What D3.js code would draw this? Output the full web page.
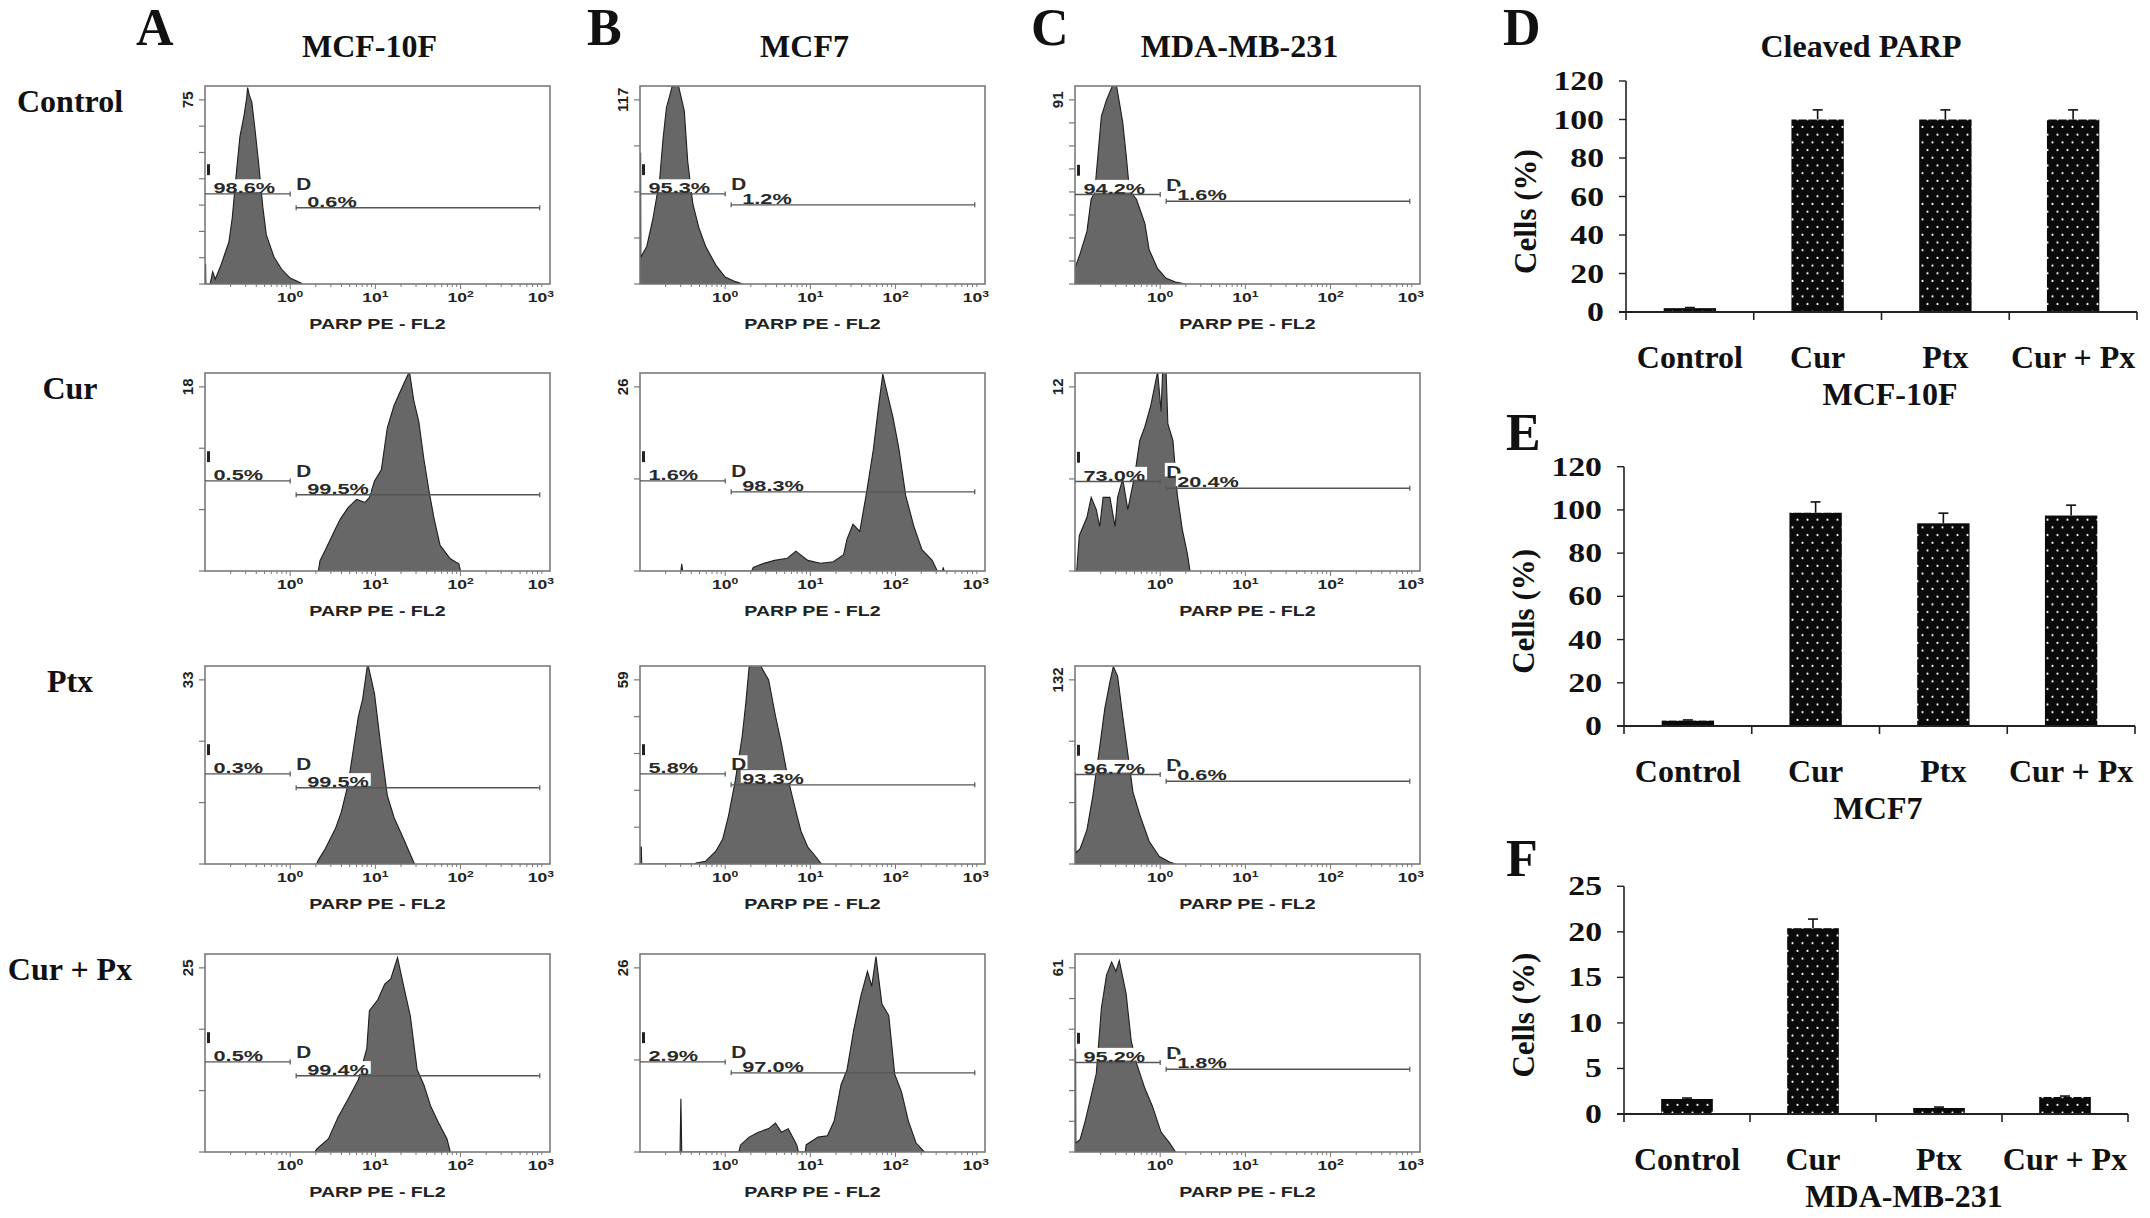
<!DOCTYPE html>
<html>
<head>
<meta charset="utf-8">
<script src="https://cdn.jsdelivr.net/npm/d3@7"></script>
<style>
  body { margin: 0; background: #fff; }
  svg { display: block; }
</style>
</head>
<body>
<div id="plot"></div>
<script>
// Panel labels and titles
const panelLetters = ["A", "B", "C", "D", "E", "F"];
const cellLines = ["MCF-10F", "MCF7", "MDA-MB-231"];
const treatments = ["Control", "Cur", "Ptx", "Cur + Px"];

// Flow histograms: y-axis max label and tick intervals, [row][column]
const histYMax = [[75, 117, 91], [18, 26, 12], [33, 59, 132], [25, 26, 61]];
const histYTicks = [[7, 4, 8], [3, 2, 2], [3, 5, 3], [3, 2, 6]];
// Gate percentages (left gate I, right gate D)
const gateLeft = [["98.6%", "95.3%", "94.2%"], ["0.5%", "1.6%", "73.0%"], ["0.3%", "5.8%", "96.7%"], ["0.5%", "2.9%", "95.2%"]];
const gateRight = [["0.6%", "1.2%", "1.6%"], ["99.5%", "98.3%", "20.4%"], ["99.5%", "93.3%", "0.6%"], ["99.4%", "97.0%", "1.8%"]];
const xTickPowers = [0, 1, 2, 3];

// Histogram outlines: [log10 PARP PE, count]
const histA1 = [[-1,8],[-0.993,8],[-0.99,0],[-0.94,0],[-0.91,5],[-0.88,2],[-0.82,7],[-0.77,12],[-0.72,17],[-0.68,27],[-0.63,46],[-0.59,60],[-0.54,69],[-0.51,76],[-0.50,80],[-0.48,77],[-0.45,74],[-0.41,62],[-0.37,49],[-0.32,31],[-0.28,20],[-0.19,11],[-0.10,6],[0.0,2.4],[0.12,0.5],[0.15,0]];
const histB1 = [[-1,83],[-0.993,83],[-0.99,17],[-0.92,24],[-0.85,41],[-0.77,66],[-0.73,92],[-0.69,112],[-0.63,124],[-0.58,135],[-0.54,124],[-0.48,110],[-0.44,78],[-0.38,51],[-0.31,36],[-0.23,24],[-0.11,12],[0,4.4],[0.12,1.5],[0.21,0]];
const histC1 = [[-1,8],[-0.94,15],[-0.86,26],[-0.81,42],[-0.77,45],[-0.73,64],[-0.69,83],[-0.63,91],[-0.57,97],[-0.53,102],[-0.50,95],[-0.44,80],[-0.40,64],[-0.36,46],[-0.28,42],[-0.18,30],[-0.13,17],[-0.03,7.6],[0.07,2.8],[0.18,1],[0.30,0]];
const histA2 = [[0.33,0],[0.35,1],[0.41,2],[0.53,4.1],[0.59,5.1],[0.68,6.2],[0.78,7],[0.88,6.7],[0.93,7.2],[0.99,8.8],[1.07,9.9],[1.14,14],[1.22,16.2],[1.30,17.7],[1.36,18.8],[1.40,19.5],[1.45,16.7],[1.51,14.6],[1.57,10.9],[1.63,7.8],[1.69,5.1],[1.76,2.5],[1.88,1.2],[1.98,0.7],[2.0,0]];
const histB2 = [[-0.52,0],[-0.51,1],[-0.50,0],[0.31,0],[0.33,0.5],[0.43,1],[0.58,1.5],[0.73,1.8],[0.83,2.8],[0.97,1.5],[1.12,1.1],[1.27,1.3],[1.39,2.3],[1.43,4.5],[1.50,6.6],[1.58,5.6],[1.66,11.1],[1.74,17.2],[1.80,23.2],[1.85,27.8],[1.91,24.7],[1.97,21.7],[2.04,17.2],[2.12,10.6],[2.22,6.1],[2.31,3],[2.43,1.5],[2.49,0],[2.55,0],[2.56,0.5],[2.57,0]];
const histC2 = [[-0.98,0],[-0.95,2.3],[-0.86,3.5],[-0.81,4.8],[-0.75,4],[-0.71,2.9],[-0.67,4.8],[-0.59,4.8],[-0.53,2.9],[-0.50,4.8],[-0.44,6],[-0.38,4],[-0.30,6.2],[-0.24,8.5],[-0.18,9.4],[-0.11,10.8],[-0.03,13],[0.01,10.4],[0.04,14.5],[0.06,14.5],[0.09,9.6],[0.15,8.5],[0.20,5],[0.26,2.7],[0.32,1.1],[0.35,0]];
const histA3 = [[0.31,0],[0.33,0.7],[0.41,2.7],[0.53,6.3],[0.60,9.3],[0.68,14.3],[0.76,22.4],[0.80,26.4],[0.85,29.5],[0.91,36],[0.99,30.5],[1.07,20.4],[1.14,12.3],[1.22,8.3],[1.34,4.2],[1.41,1.7],[1.46,0]];
const histB3 = [[-1,5.4],[-0.985,5.4],[-0.98,0],[-0.36,0],[-0.34,0.3],[-0.23,0.9],[-0.11,4.1],[-0.03,7.9],[0.04,15.6],[0.12,27],[0.20,41],[0.24,51],[0.28,62.8],[0.33,65.4],[0.37,68.6],[0.43,62.8],[0.51,59],[0.59,47.5],[0.66,38.6],[0.74,27],[0.82,18],[0.89,10.5],[0.97,5.4],[1.05,2.8],[1.13,0]];
const histC3 = [[-1,65],[-0.993,65],[-0.99,8],[-0.94,11],[-0.86,24.5],[-0.79,49],[-0.71,84],[-0.65,111.6],[-0.59,130.6],[-0.55,141.5],[-0.50,134.7],[-0.44,106],[-0.38,79],[-0.32,51.7],[-0.24,35.4],[-0.13,16.3],[-0.01,5.4],[0.11,1.4],[0.18,0]];
const histA4 = [[0.29,0],[0.31,0.4],[0.45,1.8],[0.56,4.7],[0.68,7.2],[0.80,9.8],[0.90,14.1],[0.93,19.2],[1.03,20.7],[1.11,22.8],[1.18,23.5],[1.26,26.4],[1.34,22.1],[1.41,18.5],[1.49,11.2],[1.57,9.1],[1.65,6.2],[1.74,4],[1.84,1.8],[1.88,0]];
const histB4 = [[-0.53,0],[-0.52,7.5],[-0.51,0],[0.16,0],[0.18,1],[0.28,2.1],[0.39,2.8],[0.51,3.3],[0.59,4.1],[0.66,2.8],[0.74,3.3],[0.84,1],[0.86,0],[0.94,0],[0.95,1],[1.09,2.1],[1.20,2.3],[1.28,4.4],[1.36,9.5],[1.43,11.6],[1.51,17.3],[1.59,21.9],[1.67,25.5],[1.72,23.4],[1.77,27.6],[1.84,20.9],[1.92,19.3],[1.99,11],[2.07,8.5],[2.15,4.4],[2.24,1.3],[2.34,0]];
const histC4 = [[-1,34],[-0.993,34],[-0.99,3],[-0.94,4.2],[-0.88,10.3],[-0.83,16.3],[-0.75,26],[-0.69,47.7],[-0.63,58.6],[-0.57,63],[-0.52,59.8],[-0.48,63.4],[-0.40,52.5],[-0.34,36.8],[-0.28,29.6],[-0.18,21.1],[-0.09,15.1],[0.01,6.6],[0.11,3],[0.18,0]];
const histData = [[histA1, histB1, histC1], [histA2, histB2, histC2], [histA3, histB3, histC3], [histA4, histB4, histC4]];

// Bar charts (cells %, mean and error)
const barCategories = ["Control", "Cur", "Ptx", "Cur + Px"];
const barsMCF10F = [2, 100, 100, 100];
const errMCF10F = [0.3, 5, 5, 5];
const barsMCF7 = [2.5, 98.7, 93.8, 97.4];
const errMCF7 = [0.3, 5, 4.7, 4.8];
const barsMDA = [1.65, 20.4, 0.66, 1.87];
const errMDA = [0.1, 1.0, 0.1, 0.1];
const ticksPct120 = [0, 20, 40, 60, 80, 100, 120];
const ticksPct25 = [0, 5, 10, 15, 20, 25];

const W = 2150, H = 1218;
const serif = "'Liberation Serif', 'Times New Roman', serif";
const sans = "'Liberation Sans', Arial, sans-serif";

const svg = d3.select("#plot").append("svg").attr("width", W).attr("height", H);
const defs = svg.append("defs");

// dotted fill for bars
const pat = defs.append("pattern").attr("id", "dots").attr("patternUnits", "userSpaceOnUse")
  .attr("width", 10).attr("height", 15.4);
pat.append("rect").attr("width", 10).attr("height", 15.4).attr("fill", "#0a0a0a");
pat.append("circle").attr("cx", 2.5).attr("cy", 3.8).attr("r", 1.1).attr("fill", "#fff");
pat.append("circle").attr("cx", 7.5).attr("cy", 11.5).attr("r", 1.1).attr("fill", "#fff");

// text helper with horizontal stretch
function stext(g, x, y, str, o) {
  const grp = g.append("g").attr("transform", `translate(${x},${y}) scale(${o.sx || 1},1)`);
  const t = grp.append("text")
    .attr("text-anchor", o.anchor || "start")
    .attr("font-family", o.family || serif)
    .attr("font-weight", "bold")
    .attr("font-size", o.size)
    .attr("fill", o.fill || "#111")
    .text(str);
  if (o.bg) {
    const b = t.node().getBBox();
    grp.insert("rect", "text").attr("x", b.x - 1).attr("y", b.y).attr("width", b.width + 2)
      .attr("height", -b.y - 1).attr("fill", "#fff");
  }
  return t;
}

// ---- layout ----
const colLeft = [205, 640, 1075];
const boxW = 345, boxH = 198;
const rowBottom = [284, 571, 864, 1152];
const gateLeftY = [0.545, 0.545, 0.548];
const gateRightY = [0.615, 0.6, 0.582];
const letterX = [136, 587, 1031];

// column letters and titles
cellLines.forEach((name, c) => {
  stext(svg, letterX[c], 45, panelLetters[c], { size: 52 });
  stext(svg, colLeft[c] + boxW / 2 - 8, 57, name, { size: 32, anchor: "middle" });
});
treatments.forEach((name, r) => {
  stext(svg, 70, rowBottom[r] - boxH + 26, name, { size: 32, anchor: "middle" });
});

// ---- flow histograms ----
histData.forEach((rowData, r) => {
  rowData.forEach((pts, c) => {
    const x0 = colLeft[c], y1 = rowBottom[r], y0 = y1 - boxH;
    const g = svg.append("g");
    const x = d3.scaleLinear().domain([-1, 3.05]).range([x0, x0 + boxW]);
    const y = d3.scaleLinear().domain([0, histYMax[r][c]]).range([y1, y0 + boxH * 0.07]);
    const clipId = `clip${r}${c}`;
    defs.append("clipPath").attr("id", clipId).append("rect")
      .attr("x", x0).attr("y", y0).attr("width", boxW).attr("height", boxH);

    const area = d3.area().x(d => x(d[0])).y0(y1).y1(d => y(d[1]));
    g.append("path").datum(pts).attr("d", area).attr("clip-path", `url(#${clipId})`)
      .attr("fill", "#676767").attr("stroke", "#1e1e1e").attr("stroke-width", 1.1);

    // box
    g.append("rect").attr("x", x0).attr("y", y0).attr("width", boxW).attr("height", boxH)
      .attr("fill", "none").attr("stroke", "#7a7a7a").attr("stroke-width", 1.6);

    // y ticks
    const n = histYTicks[r][c];
    d3.range(n + 1).forEach(i => {
      const yy = y(histYMax[r][c] * i / n);
      g.append("line").attr("x1", x0 - 6).attr("x2", x0).attr("y1", yy).attr("y2", yy)
        .attr("stroke", "#777").attr("stroke-width", 1.2);
    });
    g.append("text").attr("transform", `translate(${x0 - 12},${y(histYMax[r][c])}) rotate(-90)`)
      .attr("text-anchor", "middle").attr("font-family", sans).attr("font-weight", "bold")
      .attr("font-size", 15).attr("fill", "#222").text(histYMax[r][c]);

    // x ticks, major and minor
    d3.range(-1, 3).forEach(p => {
      d3.range(1, 10).forEach(k => {
        const v = p + Math.log10(k);
        if (v < -0.99) return;
        g.append("line").attr("x1", x(v)).attr("x2", x(v)).attr("y1", y1).attr("y2", y1 + (k === 1 ? 5 : 3))
          .attr("stroke", "#777").attr("stroke-width", 1);
      });
    });
    xTickPowers.forEach(p => {
      const last = p === 3;
      const t = stext(g, last ? x0 + boxW + 4 : x(p), y1 + 18, "10", { size: 13, family: sans, sx: 1.35, anchor: last ? "end" : "middle", fill: "#222" });
      t.append("tspan").attr("dy", -5).attr("font-size", 9).text(p);
    });
    stext(g, x0 + boxW / 2, y1 + 45, "PARP PE - FL2", { size: 14, family: sans, sx: 1.4, anchor: "middle", fill: "#222" });

    // gates
    const gl = y0 + boxH * gateLeftY[c], gr = y0 + boxH * gateRightY[c];
    stext(g, x(-0.9), gl - 1, gateLeft[r][c], { size: 15, family: sans, sx: 1.45, fill: "#2a2a2a", bg: true });
    stext(g, x(0.07), gl - 4, "D", { size: 16, family: sans, sx: 1.3, fill: "#2a2a2a", bg: true });
    stext(g, x(0.2), gr - 1, gateRight[r][c], { size: 15, family: sans, sx: 1.45, fill: "#2a2a2a", bg: true });
    const gateStroke = "#555";
    g.append("line").attr("x1", x0).attr("x2", x(0.0)).attr("y1", gl).attr("y2", gl).attr("stroke", gateStroke).attr("stroke-width", 1.3);
    g.append("line").attr("x1", x(0.07)).attr("x2", x(2.93)).attr("y1", gr).attr("y2", gr).attr("stroke", gateStroke).attr("stroke-width", 1.3);
    [[x(0.0), gl], [x(0.07), gr], [x(2.93), gr]].forEach(([xx, yy]) => {
      g.append("line").attr("x1", xx).attr("x2", xx).attr("y1", yy - 2.5).attr("y2", yy + 2.5).attr("stroke", gateStroke).attr("stroke-width", 1.2);
    });
    g.append("rect").attr("x", x0 + 2).attr("y", y0 + boxH * (gateLeftY[c] - 0.15)).attr("width", 3).attr("height", boxH * 0.055)
      .attr("fill", "#222");
  });
});

// ---- bar charts ----
function barChart(cfg) {
  const g = svg.append("g");
  const x = d3.scaleBand().domain(barCategories).range([cfg.x0, cfg.x1]);
  const y = d3.scaleLinear().domain([0, cfg.ticks[cfg.ticks.length - 1]]).range([cfg.base, cfg.top]);

  stext(svg, cfg.letterX, cfg.letterY, cfg.letter, { size: 52 });

  const bw = x.bandwidth() * 0.41;
  g.selectAll("rect.bar").data(cfg.values).enter().append("rect")
    .attr("x", (d, i) => x(barCategories[i]) + (x.bandwidth() - bw) / 2)
    .attr("y", d => y(d)).attr("width", bw).attr("height", d => cfg.base - y(d))
    .attr("fill", "url(#dots)");
  // error bars (upper)
  cfg.values.forEach((v, i) => {
    const cx = x(barCategories[i]) + x.bandwidth() / 2;
    const ye = y(v + cfg.errors[i]);
    g.append("line").attr("x1", cx).attr("x2", cx).attr("y1", y(v)).attr("y2", ye).attr("stroke", "#111").attr("stroke-width", 1.6);
    g.append("line").attr("x1", cx - 5).attr("x2", cx + 5).attr("y1", ye).attr("y2", ye).attr("stroke", "#111").attr("stroke-width", 1.6);
  });

  // axes
  g.append("line").attr("x1", cfg.x0).attr("x2", cfg.x0).attr("y1", cfg.top).attr("y2", cfg.base + 8)
    .attr("stroke", "#222").attr("stroke-width", 1.6);
  g.append("line").attr("x1", cfg.x0 - 7).attr("x2", cfg.x1).attr("y1", cfg.base).attr("y2", cfg.base)
    .attr("stroke", "#222").attr("stroke-width", 1.8);
  cfg.ticks.forEach(t => {
    g.append("line").attr("x1", cfg.x0 - 7).attr("x2", cfg.x0).attr("y1", y(t)).attr("y2", y(t))
      .attr("stroke", "#222").attr("stroke-width", 1.4);
    stext(g, cfg.x0 - 22, y(t) + 9, t, { size: 27, sx: 1.25, anchor: "end" });
  });
  barCategories.forEach((cat, i) => {
    const bx = x(cat) + x.bandwidth();
    g.append("line").attr("x1", bx).attr("x2", bx).attr("y1", cfg.base).attr("y2", cfg.base + 8)
      .attr("stroke", "#222").attr("stroke-width", 1.6);
    stext(g, x(cat) + x.bandwidth() / 2, cfg.base + 56, cat, { size: 32, anchor: "middle" });
  });
  g.append("text").attr("transform", `translate(${cfg.x0 - 90},${(cfg.base + cfg.top) / 2 + 15}) rotate(-90)`)
    .attr("text-anchor", "middle").attr("font-family", serif).attr("font-weight", "bold")
    .attr("font-size", 31).attr("fill", "#111").text("Cells (%)");
  stext(g, cfg.titleX, cfg.base + 93, cfg.title, { size: 32, anchor: "middle" });
}

stext(svg, 1861, 57, "Cleaved PARP", { size: 32, anchor: "middle" });
barChart({ letter: "D", letterX: 1503, letterY: 45, x0: 1626, x1: 2137, base: 312, top: 81,
  values: barsMCF10F, errors: errMCF10F, ticks: ticksPct120, title: cellLines[0], titleX: 1890 });
barChart({ letter: "E", letterX: 1506, letterY: 450, x0: 1624, x1: 2135, base: 726, top: 466.7,
  values: barsMCF7, errors: errMCF7, ticks: ticksPct120, title: cellLines[1], titleX: 1878 });
barChart({ letter: "F", letterX: 1506, letterY: 876, x0: 1624, x1: 2128, base: 1114, top: 886.3,
  values: barsMDA, errors: errMDA, ticks: ticksPct25, title: cellLines[2], titleX: 1904 });
</script>
</body>
</html>
